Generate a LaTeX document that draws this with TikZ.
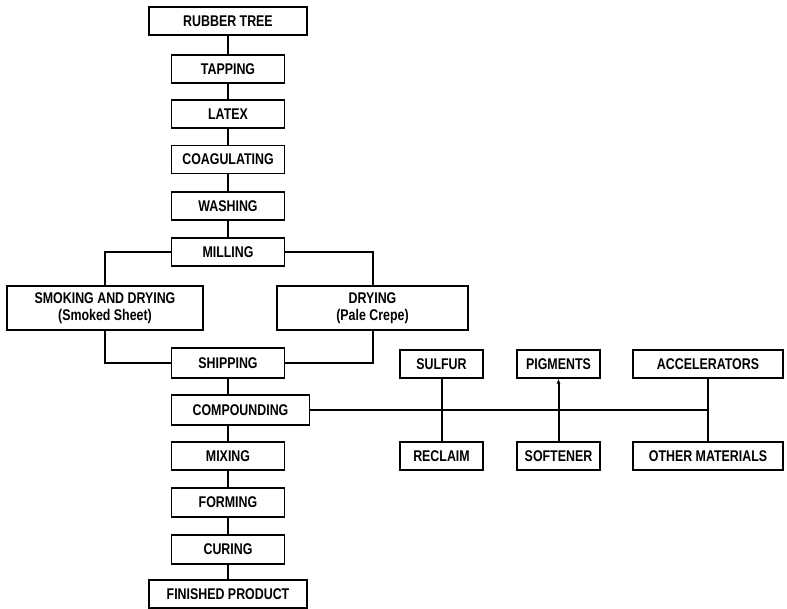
\documentclass[tikz,border=0pt]{standalone}
\usepackage{fontspec}
\setmainfont{Liberation Sans}[FakeStretch=0.8]
\usetikzlibrary{shapes,arrows,arrows.meta,positioning,calc}

\begin{document}
\begin{tikzpicture}[x=1pt,y=-1pt,
    box/.style={draw,line width=1.4pt,minimum width=113pt,minimum height=28pt,
        inner sep=1pt,align=center,font=\bfseries\fontsize{15.5}{17}\selectfont},
    link/.style={line width=2pt}]
    \useasboundingbox (0,0) rectangle (787,608);
    % main line
    \node[box,minimum width=158pt] (tree) at (228,21) {RUBBER TREE};
    \node[box] (tap) at (228,69) {TAPPING};
    \node[box] (latex) at (228,114) {LATEX};
    \node[box] (coag) at (228,159.5) {COAGULATING};
    \node[box] (wash) at (228,206) {WASHING};
    \node[box] (mill) at (228,252) {MILLING};
    \node[box,minimum width=196pt,minimum height=44pt] (smoke) at (105,308) {SMOKING AND DRYING\\(Smoked Sheet)};
    \node[box,minimum width=191pt,minimum height=44pt] (dry) at (372.5,308) {DRYING\\(Pale Crepe)};
    \node[box,minimum height=30pt] (ship) at (228,363) {SHIPPING};
    \node[box,minimum width=138pt,minimum height=30pt] (comp) at (240.5,410) {COMPOUNDING};
    \node[box] (mix) at (228,456) {MIXING};
    \node[box,minimum height=29pt] (form) at (228,502.5) {FORMING};
    \node[box,minimum height=29pt] (cure) at (228,549.5) {CURING};
    \node[box,minimum width=158pt] (fin) at (228,594) {FINISHED PRODUCT};
    % ingredients
    \node[box,minimum width=83pt] (sulfur) at (441.5,364) {SULFUR};
    \node[box,minimum width=83pt] (pigm) at (558.5,364) {PIGMENTS};
    \node[box,minimum width=150pt] (accel) at (708,364) {ACCELERATORS};
    \node[box,minimum width=83pt] (recl) at (441.5,456) {RECLAIM};
    \node[box,minimum width=83pt] (soft) at (558.5,456) {SOFTENER};
    \node[box,minimum width=150pt] (other) at (708,456) {OTHER MATERIALS};

    \draw[link] (tree) -- (tap);
    \draw[link] (tap) -- (latex);
    \draw[link] (latex) -- (coag);
    \draw[link] (coag) -- (wash);
    \draw[link] (wash) -- (mill);
    \draw[link] (mill.west) -| (smoke.north);
    \draw[link] (mill.east) -| (dry.north);
    \draw[link] (smoke.south) |- (ship.west);
    \draw[link] (dry.south) |- (ship.east);
    \draw[link] (ship.south) -- (ship.south |- comp.north);
    \draw[link] (mix.north |- comp.south) -- (mix.north);
    \draw[link] (mix) -- (form);
    \draw[link] (form) -- (cure);
    \draw[link] (cure) -- (fin);
    \draw[link] (comp.east) -- (comp.east -| accel.south);
    \draw[link] (sulfur) -- (recl);
    \draw[link,-{Latex[length=5pt,width=4pt]}] (soft) -- (pigm);
    \draw[link] (accel) -- (other);
\end{tikzpicture}
\end{document}
